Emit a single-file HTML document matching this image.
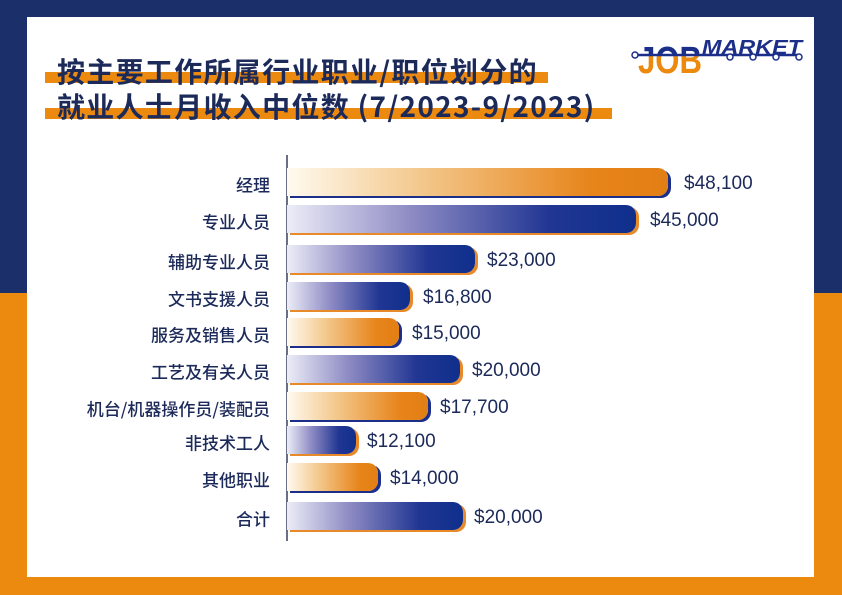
<!DOCTYPE html>
<html><head><meta charset="utf-8"><style>
*{margin:0;padding:0;box-sizing:border-box}
body{width:842px;height:595px;position:relative;overflow:hidden;background:#ec8a10;font-family:"Liberation Sans","Noto Sans CJK SC",sans-serif}
.top{position:absolute;left:0;top:0;width:842px;height:293px;background:#1b2f6b}
.card{position:absolute;left:27px;top:17px;width:787px;height:560px;background:#fff}
.hl{position:absolute;background:#ec8a10}
.title{position:absolute;left:57px;font-size:28px;line-height:32px;letter-spacing:1.3px;font-weight:bold;color:#1c2a5a;white-space:nowrap;font-family:"Noto Sans CJK SC","Liberation Sans",sans-serif}
.lab{position:absolute;right:572px;font-size:17px;color:#1c2a5a;white-space:nowrap;font-family:"Noto Sans CJK SC",sans-serif;transform:translateY(-50%);font-weight:500}
.val{position:absolute;font-size:19px;color:#1c2a5a;white-space:nowrap;transform:translateY(-50%)}
.bar{position:absolute;left:287px;height:28px;border-radius:0 10px 10px 0}
.o{background:linear-gradient(90deg,#fffaf0 0%,#f3c88c 35%,#e7841a 80%,#e27f14 100%);box-shadow:3px 2px 0 #1b2f8a}
.b{background:linear-gradient(90deg,#ecedf7 0%,#8f8cc4 35%,#213693 75%,#0f2f8c 100%);box-shadow:3px 2px 0 #e8892a}
.axis{position:absolute;left:286px;top:155px;width:1.5px;height:386px;background:#6a6f86}
</style></head><body>
<div class="top"></div>
<div class="card"></div>
<div class="hl" style="left:45px;top:72px;width:503px;height:11px"></div>
<div class="hl" style="left:45px;top:108px;width:567px;height:11px"></div>
<div class="title" style="top:55px">按主要工作所属行业职业/职位划分的</div>
<div class="title" style="top:90px">就业人士月收入中位数 (7/2023-9/2023)</div>
<svg style="position:absolute;left:628px;top:32px" width="180" height="44" viewBox="0 0 180 44">
<defs><clipPath id="tp"><rect x="0" y="0" width="180" height="24"/></clipPath><clipPath id="bt"><rect x="0" y="24" width="180" height="20"/></clipPath></defs>
<text x="10" y="41" font-family="Liberation Sans" font-weight="bold" font-size="38" fill="#ec8a10" clip-path="url(#bt)" textLength="64" lengthAdjust="spacingAndGlyphs">JOB</text>
<text x="10" y="41" font-family="Liberation Sans" font-weight="bold" font-size="38" fill="#1b2f8a" clip-path="url(#tp)" textLength="64" lengthAdjust="spacingAndGlyphs">JOB</text>
<line x1="6" y1="23" x2="172" y2="23" stroke="#1b2f8a" stroke-width="2.5"/>
<text x="74" y="22" font-family="Liberation Sans" font-weight="bold" font-style="italic" font-size="20" fill="#1b2f8a" textLength="100" lengthAdjust="spacingAndGlyphs">MARKET</text>
<g fill="#fff" stroke="#1b2f8a" stroke-width="1.5"><circle cx="7" cy="23" r="3"/><circle cx="102" cy="25" r="3"/><circle cx="125" cy="25" r="3"/><circle cx="148" cy="25" r="3"/><circle cx="171" cy="25" r="3"/></g>
</svg>
<div class="axis"></div>
<div class="bar o" style="top:168px;width:381px"></div>
<div class="bar b" style="top:205px;width:349px"></div>
<div class="bar b" style="top:245px;width:188px"></div>
<div class="bar b" style="top:282px;width:123px"></div>
<div class="bar o" style="top:318px;width:112px"></div>
<div class="bar b" style="top:355px;width:173px"></div>
<div class="bar o" style="top:392px;width:141px"></div>
<div class="bar b" style="top:426px;width:69px"></div>
<div class="bar o" style="top:463px;width:91px"></div>
<div class="bar b" style="top:502px;width:176px"></div>
<div class="lab" style="top:184px">经理</div>
<div class="lab" style="top:221px">专业人员</div>
<div class="lab" style="top:261px">辅助专业人员</div>
<div class="lab" style="top:298px">文书支援人员</div>
<div class="lab" style="top:334px">服务及销售人员</div>
<div class="lab" style="top:371px">工艺及有关人员</div>
<div class="lab" style="top:408px">机台/机器操作员/装配员</div>
<div class="lab" style="top:442px">非技术工人</div>
<div class="lab" style="top:479px">其他职业</div>
<div class="lab" style="top:518px">合计</div>
<div class="val" style="top:184px;left:684px">$48,100</div>
<div class="val" style="top:221px;left:650px">$45,000</div>
<div class="val" style="top:261px;left:487px">$23,000</div>
<div class="val" style="top:298px;left:423px">$16,800</div>
<div class="val" style="top:334px;left:412px">$15,000</div>
<div class="val" style="top:371px;left:472px">$20,000</div>
<div class="val" style="top:408px;left:440px">$17,700</div>
<div class="val" style="top:442px;left:367px">$12,100</div>
<div class="val" style="top:479px;left:390px">$14,000</div>
<div class="val" style="top:518px;left:474px">$20,000</div>
</body></html>
